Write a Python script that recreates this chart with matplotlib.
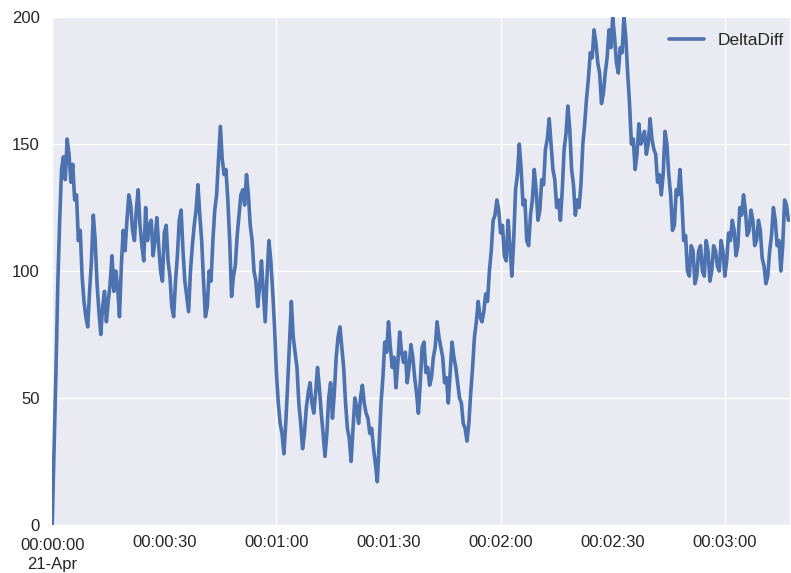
import matplotlib
matplotlib.use('Agg')
import matplotlib.pyplot as plt
from matplotlib.ticker import FixedLocator, FuncFormatter

# DeltaDiff sampled every half second from 00:00:00 on 21-Apr
delta_diff = [
    0, 30, 60, 95, 120, 140, 145, 136, 152, 146, 135, 142, 128, 130, 112, 116, 98, 88, 82, 78,
    92, 104, 122, 112, 95, 84, 75, 86, 92, 80, 88, 95, 106, 92, 100, 94, 82, 102, 116, 108,
    120, 130, 126, 116, 112, 124, 132, 118, 110, 104, 125, 112, 118, 120, 106, 112, 121, 110, 100, 96,
    115, 118, 104, 98, 86, 82, 96, 106, 120, 124, 108, 96, 90, 84, 100, 110, 118, 124, 134, 122,
    112, 96, 82, 86, 100, 96, 112, 124, 130, 144, 157, 144, 138, 140, 128, 112, 90, 98, 102, 114,
    122, 130, 132, 126, 138, 130, 118, 112, 100, 96, 86, 94, 104, 92, 80, 98, 112, 104, 92, 78,
    60, 48, 40, 36, 28, 40, 55, 72, 88, 74, 68, 62, 48, 40, 30, 36, 46, 52, 56, 48,
    44, 52, 62, 54, 44, 36, 27, 36, 50, 56, 42, 52, 66, 74, 78, 70, 62, 48, 38, 34,
    25, 38, 50, 46, 40, 50, 55, 48, 44, 42, 36, 38, 30, 24, 17, 32, 48, 58, 72, 68,
    80, 70, 62, 66, 54, 64, 76, 68, 64, 68, 56, 62, 71, 66, 58, 52, 44, 56, 70, 72,
    60, 62, 55, 58, 66, 70, 80, 74, 70, 66, 56, 58, 48, 60, 72, 66, 62, 56, 50, 48,
    40, 38, 33, 40, 52, 62, 74, 80, 88, 82, 80, 84, 91, 88, 100, 108, 120, 122, 128, 124,
    115, 118, 106, 104, 120, 110, 98, 112, 132, 138, 150, 140, 126, 128, 112, 110, 122, 128, 140, 132,
    120, 124, 136, 134, 148, 152, 160, 150, 140, 136, 125, 128, 120, 132, 148, 154, 165, 156, 140, 134,
    122, 128, 125, 134, 150, 158, 168, 176, 186, 184, 195, 190, 182, 178, 166, 170, 178, 184, 195, 188,
    200, 192, 182, 178, 188, 186, 200, 192, 178, 166, 150, 152, 140, 146, 158, 150, 152, 155, 146, 150,
    160, 152, 148, 146, 135, 138, 130, 138, 155, 150, 138, 130, 116, 118, 132, 130, 140, 128, 112, 114,
    100, 98, 110, 108, 95, 98, 108, 110, 100, 98, 112, 108, 96, 100, 110, 108, 102, 100, 112, 108,
    98, 104, 115, 112, 120, 116, 106, 110, 125, 122, 130, 124, 114, 116, 124, 120, 110, 112, 120, 116,
    105, 102, 95, 98, 108, 114, 125, 120, 110, 112, 100, 110, 128, 126, 120,
]
seconds = [i * 0.5 for i in range(len(delta_diff))]

major_ticks = [0, 60, 120, 180]
minor_ticks = [30, 90, 150]


def fmt_time(x, pos=None):
    s = int(round(x))
    label = '%02d:%02d:%02d' % (s // 3600, (s // 60) % 60, s % 60)
    if s == 0:
        label += '\n21-Apr'
    return label


plt.style.use('seaborn-v0_8-darkgrid')
plt.rcParams['font.family'] = ['Liberation Sans', 'DejaVu Sans']

fig = plt.figure(figsize=(7.91, 5.73), dpi=100)
ax = fig.add_axes([0.066, 0.084, 0.933, 0.886])

ax.plot(seconds, delta_diff, color='#4C72B0', linewidth=2.6, label='DeltaDiff')

ax.set_xlim(0, 197.5)
ax.set_ylim(0, 200)
ax.set_yticks([0, 50, 100, 150, 200])
ax.xaxis.set_major_locator(FixedLocator(major_ticks))
ax.xaxis.set_minor_locator(FixedLocator(minor_ticks))
ax.xaxis.set_major_formatter(FuncFormatter(fmt_time))
ax.xaxis.set_minor_formatter(FuncFormatter(fmt_time))
ax.grid(True, which='major', color='white', linewidth=1.0)
ax.tick_params(axis='both', which='both', length=0, labelsize=12,
               labelcolor='#262626')
ax.tick_params(axis='x', which='both', pad=7)
ax.tick_params(axis='y', pad=9)

# the first date label carries the day on a second line
fig.canvas.draw()
for lbl in ax.get_xticklabels():
    if '\n' in lbl.get_text():
        lbl.set_linespacing(1.35)
        lbl.set_y(-0.006)

ax.legend(loc='upper right', bbox_to_anchor=(1.013, 1.0), frameon=False,
          fontsize=12.5)

fig.savefig('out.png', dpi=100)
